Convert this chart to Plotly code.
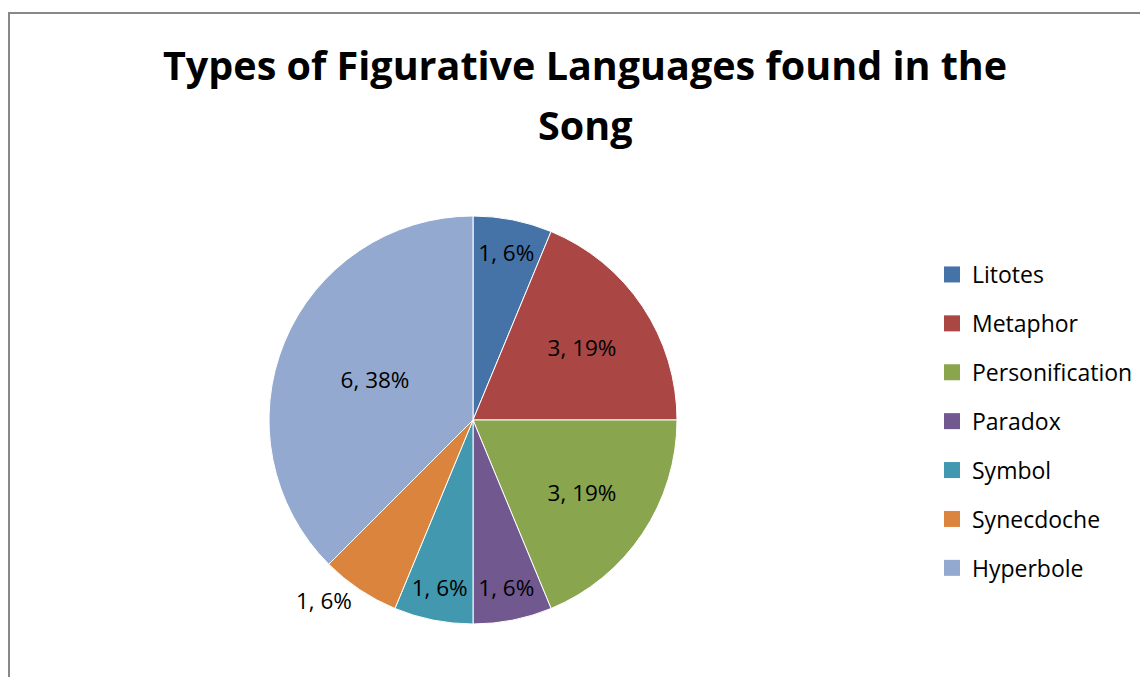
import plotly.graph_objects as go

categories = ["Litotes", "Metaphor", "Personification", "Paradox", "Symbol", "Synecdoche", "Hyperbole"]
values = [1, 3, 3, 1, 1, 1, 6]
colors = ["#4572A7", "#AA4643", "#89A54E", "#71588F", "#4198AF", "#DB843D", "#93A9CF"]
label_pos = ["inside", "inside", "inside", "inside", "inside", "outside", "inside"]
title_lines = ["Types of Figurative Languages found in the", "Song"]

total = sum(values)
texts = [f"{v}, {round(v / total * 100 + 1e-9):.0f}%" for v in values]

W, H = 1148, 677
FONT = "Open Sans"
CX, CY, R = 465, 412, 204  # pie centre / radius in figure pixels

fig = go.Figure()
fig.add_trace(go.Pie(
    labels=categories, values=values, text=texts,
    textinfo="text", texttemplate="%{text}",
    textposition=label_pos, insidetextorientation="horizontal",
    sort=False, direction="clockwise", rotation=0,
    marker=dict(colors=colors, line=dict(color="white", width=1)),
    textfont=dict(family=FONT, size=22.5, color="black"),
    domain=dict(x=[(CX - R) / W, (CX + R) / W], y=[1 - (CY + R) / H, 1 - (CY - R) / H]),
    showlegend=False, hoverinfo="label+value+percent",
))
for i, (c, col) in enumerate(zip(categories, colors)):
    fig.add_trace(go.Scatter(
        x=[None], y=[None], mode="markers", name=c, legendgroup=f"g{i}",
        marker=dict(symbol="square", size=16, color=col), showlegend=True,
    ))

fig.update_layout(
    width=W, height=H,
    margin=dict(l=0, r=0, t=0, b=0),
    paper_bgcolor="white", plot_bgcolor="white",
    xaxis=dict(visible=False), yaxis=dict(visible=False),
    uniformtext=dict(minsize=22.5, mode="show"),
    annotations=[
        dict(text=title_lines[0], xref="paper", yref="paper", x=577 / W, y=1 - 57 / H,
             xanchor="center", yanchor="middle", showarrow=False,
             font=dict(family=FONT, size=39.5, color="black", weight="bold")),
        dict(text=title_lines[1], xref="paper", yref="paper", x=577 / W, y=1 - 117 / H,
             xanchor="center", yanchor="middle", showarrow=False,
             font=dict(family=FONT, size=39.5, color="black", weight="bold")),
    ],
    legend=dict(x=924 / W, xanchor="left", y=1 - 245 / H, yanchor="top",
                font=dict(family=FONT, size=23, color="black"),
                tracegroupgap=16, itemwidth=30, bgcolor="rgba(0,0,0,0)"),
    shapes=[dict(type="rect", xref="paper", yref="paper",
                 x0=1 / W, x1=1.05, y0=-0.05, y1=1 - 5 / H,
                 line=dict(color="#888888", width=2), fillcolor="rgba(0,0,0,0)", layer="below")],
)
fig.write_html("out.html")
